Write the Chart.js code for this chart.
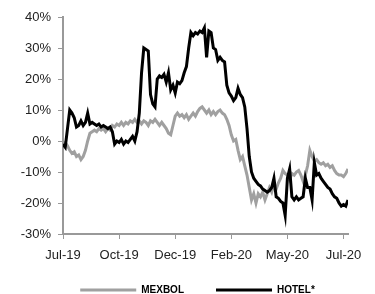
<!DOCTYPE html>
<html>
<head>
<meta charset="utf-8">
<script src="https://cdn.jsdelivr.net/npm/chart.js@4.4.0/dist/chart.umd.min.js"></script>
<style>
  html, body { margin: 0; padding: 0; background: #fff; }
</style>
</head>
<body>
<canvas id="myChart" width="375" height="294"></canvas>
<script>
// etiquetas del eje x (una cada 25 puntos)
const tickLabels = ['Jul-19', 'Oct-19', 'Dec-19', 'Feb-20', 'May-20', 'Jul-20'];
const tickEvery = 25;

// rendimiento acumulado (%), un punto cada 2 sesiones
const mexbol = [
  -1, -0.5, -1.5, -3, -4, -3.5, -5, -4.5, -6, -5,
  -3, 0, 2.5, 3, 3.5, 3, 4, 3.5, 4, 3,
  4, 3.5, 5, 4.5, 5.5, 5, 6, 5, 6, 5.5,
  6.5, 6, 7, 6, 6.5, 5.5, 6.5, 6, 5, 6.5,
  6, 7, 6, 5, 6, 5, 4, 2.5, 2, 5,
  8, 9, 8, 8.5, 7.5, 8.5, 7, 8, 9, 8,
  9.5, 10.5, 11, 10, 9, 10, 8.5, 9.5, 8.5, 9.5,
  10, 9, 8.5, 7, 5, 2, 0, 0.5, -3, -6,
  -5, -8, -11, -15, -19, -17, -20, -17, -18, -16.5,
  -19, -17, -15, -16.5, -14, -15.5, -13.5, -12, -9.5, -10.5,
  -11, -12.5, -10.5, -11, -10, -9.5, -11, -13, -11, -8,
  -3, -5, -6.5, -6, -7, -7.5, -7, -8, -7.5, -8.5,
  -8, -9.5, -10.5, -11, -11, -11.5, -10.5, -9
];

const hotel = [
  -1, -2, 4, 10, 9, 7.5, 4.5, 5, 6.5, 5,
  6, 9, 5.5, 6, 5.5, 5, 5.5, 4.5, 5, 4.5,
  4, 4.5, 3, -1, 0, -0.5, 0.5, -1, 0, -0.5,
  0.5, 1.5, 0, 3, 9, 22, 30, 29.5, 29, 15,
  12, 11, 20, 21, 20.5, 21.5, 19, 22, 16.5, 18,
  15.5, 19, 18.5, 19.5, 22, 24, 30, 35, 34, 35,
  34.5, 35.5, 35, 36.5, 27, 35.5, 35, 30, 29.5, 26,
  27, 26, 25.5, 18, 15.5, 14.5, 13, 14, 17, 15,
  14, 11, 4, -5, -10, -12, -13, -14, -14.5, -15.5,
  -16, -16.5, -16, -15, -12, -18, -18.5, -19.5, -20, -24,
  -12, -9, -18, -19, -18, -19, -18.5, -18, -12, -15,
  -15, -19, -7, -11, -10.5, -12, -13, -14, -15, -15.5,
  -17, -18, -18.5, -20, -21, -20.5, -21, -19
];

const axisColor = '#999999';
const font = "'Liberation Sans', Arial, sans-serif";

// las etiquetas de los ejes pueden salir de su caja (Chart.js las recorta)
const unclip = {
  id: 'unclip',
  afterLayout(chart) {
    chart.scales.y.left = 0;
    chart.scales.x.bottom = chart.height;
  }
};

const data = {
  datasets: [{
    label: 'MEXBOL',
    data: mexbol.map((y, i) => ({ x: i, y: y })),
    borderColor: '#a0a0a0',
    backgroundColor: '#a0a0a0',
    borderWidth: 3,
    pointRadius: 0,
    order: 1
  }, {
    label: 'HOTEL*',
    data: hotel.map((y, i) => ({ x: i, y: y })),
    borderColor: '#000000',
    backgroundColor: '#000000',
    borderWidth: 3,
    pointRadius: 0,
    order: 0
  }]
};

const config = {
  type: 'line',
  data,
  plugins: [unclip],
  options: {
    responsive: false,
    animation: false,
    layout: { padding: { left: 47, right: 27, top: 17, bottom: -11 } },
    scales: {
      x: {
        type: 'linear',
        min: 0,
        max: mexbol.length - 1,
        afterBuildTicks: (ax) => { ax.ticks = tickLabels.map((t, k) => ({ value: k * tickEvery })); },
        afterFit: (s) => { s.height = 19; },
        grid: { drawOnChartArea: false, color: axisColor, tickLength: 5 },
        border: { color: axisColor, width: 2 },
        ticks: {
          autoSkip: false,
          maxRotation: 0,
          padding: 9,
          color: '#222',
          font: { family: font, size: 13 },
          callback: (v) => tickLabels[v / tickEvery]
        }
      },
      y: {
        min: -30,
        max: 40,
        afterFit: (s) => { s.width = 16; },
        grid: { drawOnChartArea: false, color: axisColor, tickLength: 5 },
        border: { color: axisColor, width: 2 },
        ticks: {
          stepSize: 10,
          padding: 7,
          color: '#222',
          font: { family: font, size: 13 },
          callback: (v) => v + '%'
        }
      }
    },
    plugins: {
      tooltip: { enabled: false },
      legend: {
        position: 'bottom',
        labels: {
          boxWidth: 56,
          boxHeight: 3,
          padding: 32,
          color: '#000',
          font: { family: font, size: 10, weight: 'bold' },
          sort: (a, b) => a.datasetIndex - b.datasetIndex,
          generateLabels: (chart) => Chart.defaults.plugins.legend.labels.generateLabels(chart)
            .map(l => Object.assign(l, { lineWidth: 0 }))
        }
      }
    }
  }
};

const myChart = new Chart(document.getElementById('myChart'), config);
</script>
</body>
</html>
